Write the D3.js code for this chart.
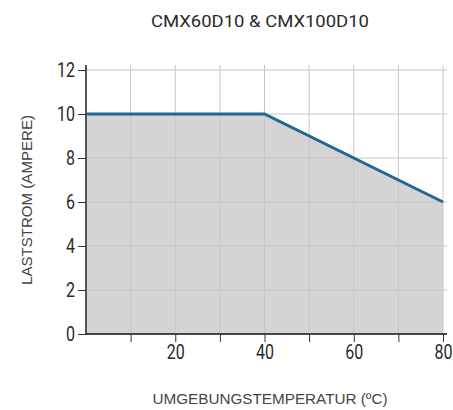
<!DOCTYPE html>
<html>
<head>
<meta charset="utf-8">
<script src="https://cdn.jsdelivr.net/npm/d3@7"></script>
<style>
  body { margin: 0; background: #fff; }
  svg { display: block; }
</style>
</head>
<body>
<div id="chart"></div>
<script>
const TITLE = "CMX60D10 & CMX100D10";
const X_TITLE = "UMGEBUNGSTEMPERATUR (ºC)";
const Y_TITLE = "LASTSTROM (AMPERE)";

const temps = [0, 40, 80];
const current = [10, 10, 6];

const xTicks = [10, 20, 30, 40, 50, 60, 70, 80];
const xLabels = [20, 40, 60, 80];
const yTicks = [0, 2, 4, 6, 8, 10, 12];

const width = 453, height = 410;
const m = { top: 70, right: 10, bottom: 76, left: 86 };
const narrow = "Roboto, 'Liberation Sans', sans-serif";
const plain = "'Liberation Sans', Arial, sans-serif";
const squeeze = 0.8; // fake condensed face

const svg = d3.select("#chart").append("svg")
  .attr("width", width)
  .attr("height", height);

const x = d3.scaleLinear().domain([0, 80]).range([m.left, 443]);
const y = d3.scaleLinear().domain([0, 12]).range([height - m.bottom, m.top]);

const data = temps.map((t, i) => ({ t, v: current[i] }));

// area under curve
svg.append("path")
  .datum(data)
  .attr("fill", "#d4d4d4")
  .attr("d", d3.area().x(d => x(d.t)).y0(y(0)).y1(d => y(d.v)));

// grid
svg.append("g")
  .selectAll("line")
  .data(xTicks)
  .join("line")
  .attr("x1", d => x(d)).attr("x2", d => x(d))
  .attr("y1", y(12) - 5).attr("y2", y(0))
  .attr("stroke", "#c6c6c6");

svg.append("g")
  .selectAll("line")
  .data(yTicks.filter(d => d > 0))
  .join("line")
  .attr("x1", x(0)).attr("x2", 447)
  .attr("y1", d => y(d)).attr("y2", d => y(d))
  .attr("stroke", "#c6c6c6");

// curve
svg.append("path")
  .datum(data)
  .attr("fill", "none")
  .attr("stroke", "#1d6894")
  .attr("stroke-width", 3)
  .attr("d", d3.line().x(d => x(d.t)).y(d => y(d.v)));

// y axis
const yAxis = svg.append("g")
  .attr("transform", `translate(${x(0)},0)`)
  .call(d3.axisLeft(y).tickValues(yTicks).tickSize(8).tickPadding(3).tickSizeOuter(0));
yAxis.select(".domain").attr("stroke", "#555").attr("stroke-width", 2)
  .attr("d", `M0,${y(12) - 5}V${y(0)}`);
yAxis.selectAll(".tick line").attr("stroke", "#333");
yAxis.selectAll(".tick text")
  .attr("font-family", narrow).attr("font-size", 20).attr("fill", "#2a2a2a")
  .attr("x", -11 / squeeze)
  .attr("transform", `scale(${squeeze},1)`);

// x axis
const xAxis = svg.append("g")
  .attr("transform", `translate(0,${y(0)})`)
  .call(d3.axisBottom(x).tickValues(xTicks)
    .tickFormat(d => xLabels.includes(d) ? d : "")
    .tickSize(8).tickPadding(3).tickSizeOuter(0));
xAxis.select(".domain").attr("stroke", "#111").attr("stroke-width", 1.5)
  .attr("d", `M${x(0)},0H447`);
xAxis.selectAll(".tick line").attr("stroke", "#333");
xAxis.selectAll(".tick text")
  .attr("font-family", narrow).attr("font-size", 20).attr("fill", "#2a2a2a")
  .attr("transform", `scale(${squeeze},1)`);

// titles
svg.append("text")
  .attr("x", 260).attr("y", 27)
  .attr("text-anchor", "middle")
  .attr("font-family", narrow).attr("font-size", 17).attr("fill", "#2a2a2a")
  .attr("textLength", 218).attr("lengthAdjust", "spacingAndGlyphs")
  .text(TITLE);

svg.append("text")
  .attr("x", 270).attr("y", 404)
  .attr("text-anchor", "middle")
  .attr("font-family", plain)
  .attr("font-size", 15).attr("fill", "#444")
  .attr("textLength", 235).attr("lengthAdjust", "spacingAndGlyphs")
  .text(X_TITLE);

svg.append("text")
  .attr("transform", "translate(32,200) rotate(-90)")
  .attr("text-anchor", "middle")
  .attr("font-family", plain)
  .attr("font-size", 15).attr("fill", "#444")
  .attr("textLength", 170).attr("lengthAdjust", "spacingAndGlyphs")
  .text(Y_TITLE);
</script>
</body>
</html>
